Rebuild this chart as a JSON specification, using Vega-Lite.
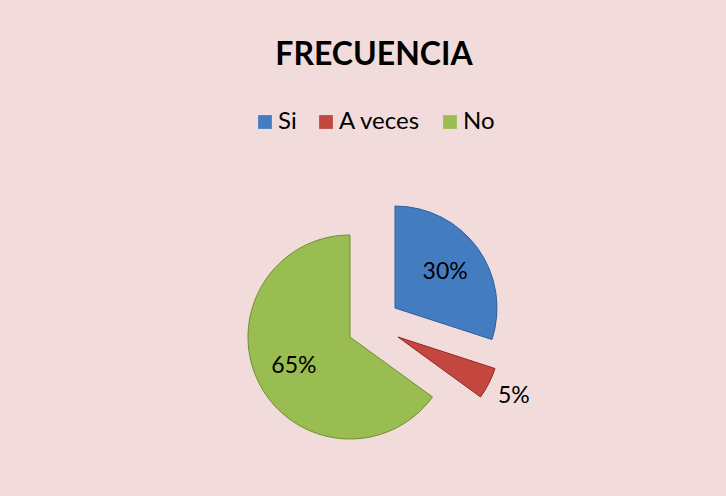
{
  "$schema": "https://vega.github.io/schema/vega-lite/v6.json",
  "width": 700,
  "height": 300,
  "autosize": {"type": "none"},
  "padding": {"left": 24, "top": 175, "right": 2, "bottom": 21},
  "background": "#F2DCDB",
  "config": {"view": {"stroke": null}, "font": "Lato", "legend": {"layout": {"top": {"anchor": "middle"}}}},
  "title": {"text": "FRECUENCIA", "fontSize": 32, "font": "Lato", "fontWeight": "bold", "color": "#000000", "anchor": "middle", "offset": 38},
  "data": {"values": [
    {"cat": "Si", "ord": 1, "v": 30, "label": "30%"},
    {"cat": "A veces", "ord": 2, "v": 5, "label": "5%"},
    {"cat": "No", "ord": 3, "v": 65, "label": "65%"}
  ]},
  "encoding": {
    "theta": {"field": "v", "type": "quantitative", "stack": true},
    "order": {"field": "ord", "type": "quantitative"},
    "color": {
      "field": "cat", "type": "nominal",
      "scale": {"domain": ["Si", "A veces", "No"], "range": ["#447CC2", "#C4473F", "#9ABD51"]},
      "legend": {"title": null, "orient": "top", "direction": "horizontal", "offset": 41, "symbolType": "square", "symbolSize": 190, "symbolStrokeWidth": 0, "symbolOpacity": 1, "labelFontSize": 24, "labelFont": "Lato", "labelColor": "#000000", "labelOffset": 1, "columnPadding": 17}
    }
  },
  "layer": [
    {
      "mark": {"type": "arc", "outerRadius": 102, "xOffset": 21, "yOffset": -17, "strokeWidth": 1},
      "encoding": {
        "opacity": {"condition": {"test": "datum.cat === 'Si'", "value": 1}, "value": 0},
        "stroke": {"field": "cat", "type": "nominal", "scale": {"domain": ["Si", "A veces", "No"], "range": ["#2E5E9C", "#8E2A26", "#6E8F32"]}, "legend": null}
      }
    },
    {
      "mark": {"type": "arc", "outerRadius": 102, "xOffset": 24, "yOffset": 12, "strokeWidth": 1},
      "encoding": {
        "opacity": {"condition": {"test": "datum.cat === 'A veces'", "value": 1}, "value": 0},
        "stroke": {"field": "cat", "type": "nominal", "legend": null}
      }
    },
    {
      "mark": {"type": "arc", "outerRadius": 102, "xOffset": -24, "yOffset": 12, "strokeWidth": 1},
      "encoding": {
        "opacity": {"condition": {"test": "datum.cat === 'No'", "value": 1}, "value": 0},
        "stroke": {"field": "cat", "type": "nominal", "legend": null}
      }
    },
    {
      "mark": {"type": "text", "radius": 62, "xOffset": 21, "yOffset": -17, "fontSize": 23, "font": "Lato", "align": "center", "baseline": "middle"},
      "encoding": {
        "color": {"value": "#000000"},
        "text": {"condition": {"test": "datum.cat === 'Si'", "field": "label"}, "value": ""}
      }
    },
    {
      "mark": {"type": "text", "radius": 130, "xOffset": 24, "yOffset": 12, "fontSize": 23, "font": "Lato", "align": "center", "baseline": "middle"},
      "encoding": {
        "color": {"value": "#000000"},
        "text": {"condition": {"test": "datum.cat === 'A veces'", "field": "label"}, "value": ""}
      }
    },
    {
      "mark": {"type": "text", "radius": 63, "xOffset": -24, "yOffset": 12, "fontSize": 23, "font": "Lato", "align": "center", "baseline": "middle"},
      "encoding": {
        "color": {"value": "#000000"},
        "text": {"condition": {"test": "datum.cat === 'No'", "field": "label"}, "value": ""}
      }
    }
  ]
}
